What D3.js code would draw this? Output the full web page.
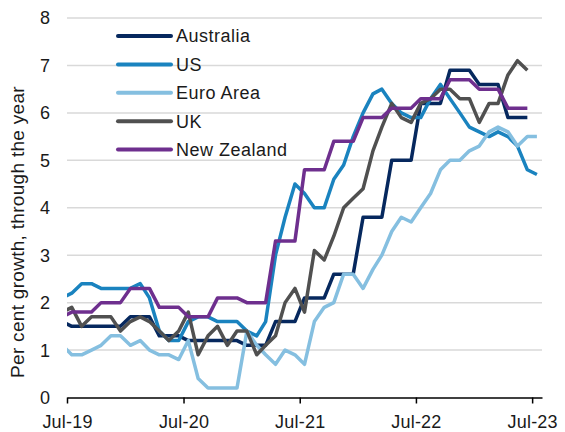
<!DOCTYPE html>
<html>
<head>
<meta charset="utf-8">
<script src="https://cdn.jsdelivr.net/npm/d3@7"></script>
<style>
  body { margin: 0; background: #fff; }
  svg text { font-family: "Liberation Sans", Arial, sans-serif; fill: #1a1a1a; }
</style>
</head>
<body>
<div id="chart"></div>
<script>
// months Jun-19 .. Jul-23 (data plotted mid-month)
var months = ["2019-06", "2019-07", "2019-08", "2019-09", "2019-10", "2019-11", "2019-12",
  "2020-01", "2020-02", "2020-03", "2020-04", "2020-05", "2020-06", "2020-07", "2020-08", "2020-09", "2020-10", "2020-11", "2020-12",
  "2021-01", "2021-02", "2021-03", "2021-04", "2021-05", "2021-06", "2021-07", "2021-08", "2021-09", "2021-10", "2021-11", "2021-12",
  "2022-01", "2022-02", "2022-03", "2022-04", "2022-05", "2022-06", "2022-07", "2022-08", "2022-09", "2022-10", "2022-11", "2022-12",
  "2023-01", "2023-02", "2023-03", "2023-04", "2023-05", "2023-06", "2023-07"];

var australia = [1.6, 1.5, 1.5, 1.5, 1.5, 1.5, 1.5,
  1.7, 1.7, 1.7, 1.3, 1.3, 1.3, 1.2, 1.2, 1.2, 1.2, 1.2, 1.2,
  1.1, 1.1, 1.1, 1.6, 1.6, 1.6, 2.1, 2.1, 2.1, 2.6, 2.6, 2.6,
  3.8, 3.8, 3.8, 5.0, 5.0, 5.0, 6.2, 6.2, 6.2, 6.9, 6.9, 6.9,
  6.6, 6.6, 6.6, 5.9, 5.9, 5.9, null];

var us = [2.1, 2.2, 2.4, 2.4, 2.3, 2.3, 2.3,
  2.3, 2.4, 2.1, 1.4, 1.2, 1.2, 1.6, 1.7, 1.7, 1.6, 1.6, 1.6,
  1.4, 1.3, 1.6, 3.0, 3.8, 4.5, 4.3, 4.0, 4.0, 4.6, 4.9, 5.5,
  6.0, 6.4, 6.5, 6.2, 6.0, 5.9, 5.9, 6.3, 6.6, 6.3, 6.0, 5.7,
  5.6, 5.5, 5.6, 5.5, 5.3, 4.8, 4.7];

var euroArea = [1.1, 0.9, 0.9, 1.0, 1.1, 1.3, 1.3,
  1.1, 1.2, 1.0, 0.9, 0.9, 0.8, 1.2, 0.4, 0.2, 0.2, 0.2, 0.2,
  1.4, 1.1, 0.9, 0.7, 1.0, 0.9, 0.7, 1.6, 1.9, 2.0, 2.6, 2.6,
  2.3, 2.7, 3.0, 3.5, 3.8, 3.7, 4.0, 4.3, 4.8, 5.0, 5.0, 5.2,
  5.3, 5.6, 5.7, 5.6, 5.3, 5.5, 5.5];

var uk = [1.8, 1.9, 1.5, 1.7, 1.7, 1.7, 1.4,
  1.6, 1.7, 1.6, 1.4, 1.2, 1.4, 1.8, 0.9, 1.3, 1.5, 1.1, 1.4,
  1.4, 0.9, 1.1, 1.3, 2.0, 2.3, 1.8, 3.1, 2.9, 3.4, 4.0, 4.2,
  4.4, 5.2, 5.7, 6.2, 5.9, 5.8, 6.2, 6.3, 6.5, 6.5, 6.3, 6.3,
  5.8, 6.2, 6.2, 6.8, 7.1, 6.9, null];

var newZealand = [1.7, 1.8, 1.8, 1.8, 2.0, 2.0, 2.0,
  2.3, 2.3, 2.3, 1.9, 1.9, 1.9, 1.7, 1.7, 1.7, 2.1, 2.1, 2.1,
  2.0, 2.0, 2.0, 3.3, 3.3, 3.3, 4.8, 4.8, 4.8, 5.4, 5.4, 5.4,
  5.9, 5.9, 5.9, 6.1, 6.1, 6.1, 6.3, 6.3, 6.3, 6.7, 6.7, 6.7,
  6.5, 6.5, 6.5, 6.1, 6.1, 6.1, null];

var seriesNames = ["Australia", "US", "Euro Area", "UK", "New Zealand"];
var seriesColors = ["#06285e", "#1a83bf", "#85bfe0", "#505050", "#6e2f8e"];
var yTicks = [0, 1, 2, 3, 4, 5, 6, 7, 8];
var xTicks = ["2019-07", "2020-07", "2021-07", "2022-07", "2023-07"];

var size = { width: 565, height: 432 };
var plot = { left: 67, right: 542, top: 18, bottom: 397.5 };

var parseMonth = d3.timeParse("%Y-%m");
var midMonth = (m) => d3.timeDay.offset(parseMonth(m), 15);

var x = d3.scaleTime()
  .domain([parseMonth("2019-07"), parseMonth("2023-08")])
  .range([plot.left, plot.right]);

var y = d3.scaleLinear()
  .domain([0, 8])
  .range([plot.bottom, plot.top]);

var svg = d3.select("#chart")
  .append("svg")
  .attr("width", size.width)
  .attr("height", size.height);

svg.append("defs")
  .append("clipPath")
  .attr("id", "plot-clip")
  .append("rect")
  .attr("x", plot.left)
  .attr("y", 0)
  .attr("width", plot.right - plot.left)
  .attr("height", size.height);

/* gridlines */
svg.append("g")
  .selectAll("line")
  .data(yTicks.filter((t) => t > 0))
  .enter()
  .append("line")
  .attr("x1", plot.left)
  .attr("x2", plot.right)
  .attr("y1", (d) => y(d))
  .attr("y2", (d) => y(d))
  .style("stroke", "#d9d9d9")
  .style("stroke-width", 1.5);

/* y labels */
svg.append("g")
  .selectAll("text")
  .data(yTicks)
  .enter()
  .append("text")
  .attr("x", 50)
  .attr("y", (d) => y(d))
  .attr("dy", "0.36em")
  .style("text-anchor", "end")
  .style("font-size", "18px")
  .text((d) => d);

/* x axis */
var xAxis = svg.append("g")
  .attr("transform", `translate(0,${plot.bottom})`)
  .call(d3.axisBottom(x)
    .tickValues(xTicks.map(parseMonth))
    .tickSize(6)
    .tickSizeOuter(0)
    .tickPadding(12)
    .tickFormat(d3.timeFormat("%b-%y")));
xAxis.select(".domain").style("stroke", "#000").style("stroke-width", 1.5);
xAxis.selectAll(".tick line").style("stroke", "#000").style("stroke-width", 1.5);
xAxis.selectAll(".tick text")
  .style("font-size", "18px")
  .style("letter-spacing", "0.2px")
  .style("font-family", "'Liberation Sans', Arial, sans-serif")
  .style("fill", "#1a1a1a");

/* y title */
svg.append("text")
  .attr("transform", "translate(24,232) rotate(-90)")
  .style("text-anchor", "middle")
  .style("font-size", "19px")
  .style("letter-spacing", "0.3px")
  .text("Per cent growth, through the year");

/* lines */
var allSeries = [australia, us, euroArea, uk, newZealand];
var line = d3.line()
  .defined((d) => d.v != null)
  .x((d) => x(d.date))
  .y((d) => y(d.v));

svg.append("g")
  .attr("clip-path", "url(#plot-clip)")
  .selectAll("path")
  .data(allSeries.map((vals, i) => ({
    name: seriesNames[i],
    color: seriesColors[i],
    points: vals.map((v, j) => ({ date: midMonth(months[j]), v: v })),
  })))
  .enter()
  .append("path")
  .attr("d", (d) => line(d.points))
  .style("fill", "none")
  .style("stroke", (d) => d.color)
  .style("stroke-width", 3.5)
  .style("stroke-linejoin", "round");

/* legend */
var legend = svg.append("g")
  .selectAll("g")
  .data(seriesNames)
  .enter()
  .append("g")
  .attr("transform", (d, i) => `translate(118,${36 + i * 28.4})`);

legend.append("line")
  .attr("x1", 0)
  .attr("x2", 53)
  .style("stroke", (d, i) => seriesColors[i])
  .style("stroke-width", 4)
  .style("stroke-linecap", "round");

legend.append("text")
  .attr("x", 58)
  .attr("dy", "0.36em")
  .style("font-size", "18px")
  .style("letter-spacing", "0.5px")
  .text((d) => d);
</script>
</body>
</html>
